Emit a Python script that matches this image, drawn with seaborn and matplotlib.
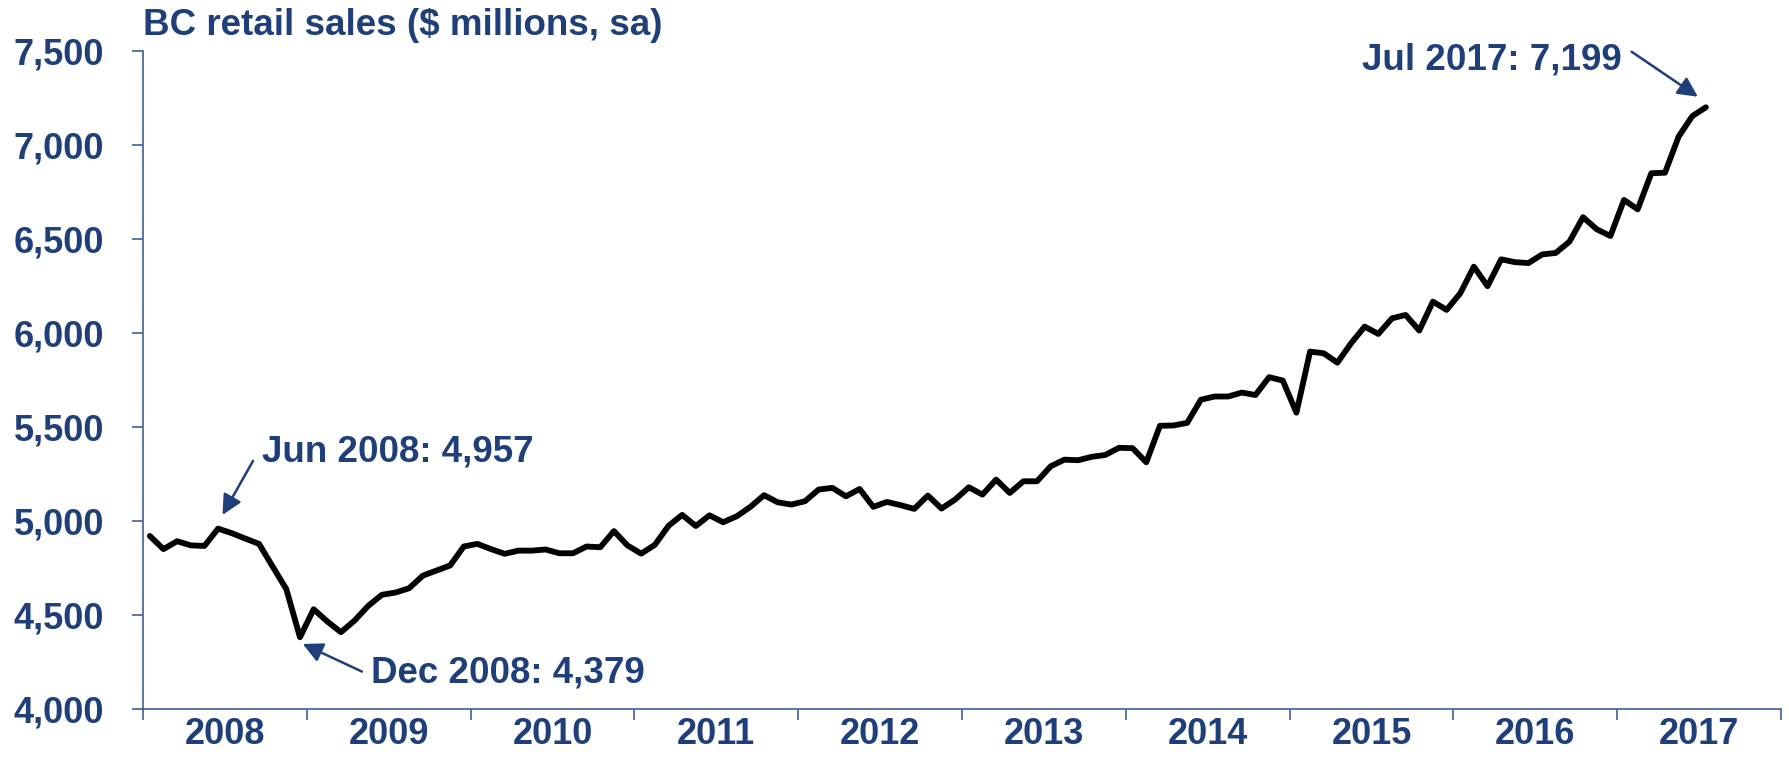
import numpy as np
import pandas as pd
import matplotlib
matplotlib.use("Agg")
import matplotlib.pyplot as plt
import seaborn as sns
from matplotlib.ticker import FixedLocator, FuncFormatter
from matplotlib.transforms import offset_copy

# ---------------- data ----------------
years = ["2008", "2009", "2010", "2011", "2012", "2013", "2014", "2015", "2016", "2017"]
sales_2008 = [4918, 4848, 4890, 4868, 4865, 4957, 4933, 4904, 4876, 4755, 4635, 4379]
sales_2009 = [4528, 4463, 4406, 4468, 4546, 4605, 4617, 4640, 4707, 4734, 4761, 4862]
sales_2010 = [4876, 4848, 4823, 4840, 4840, 4846, 4826, 4826, 4862, 4858, 4944, 4867]
sales_2011 = [4824, 4871, 4972, 5030, 4971, 5028, 4991, 5023, 5073, 5135, 5097, 5085]
sales_2012 = [5103, 5165, 5174, 5129, 5168, 5073, 5099, 5082, 5062, 5133, 5064, 5112]
sales_2013 = [5177, 5138, 5218, 5147, 5209, 5209, 5289, 5324, 5321, 5339, 5349, 5387]
sales_2014 = [5385, 5310, 5504, 5506, 5520, 5643, 5660, 5660, 5681, 5668, 5763, 5745]
sales_2015 = [5574, 5899, 5890, 5840, 5943, 6032, 5993, 6076, 6094, 6011, 6165, 6121]
sales_2016 = [6209, 6351, 6247, 6390, 6375, 6370, 6416, 6424, 6484, 6614, 6550, 6514]
sales_2017 = [6706, 6656, 6848, 6851, 7043, 7152, 7199]
y_ticks = [4000, 4500, 5000, 5500, 6000, 6500, 7000, 7500]

title = "BC retail sales ($ millions, sa)"
note_jun = "Jun 2008: 4,957"
note_dec = "Dec 2008: 4,379"
note_jul = "Jul 2017: 7,199"

values = (sales_2008 + sales_2009 + sales_2010 + sales_2011 + sales_2012 +
          sales_2013 + sales_2014 + sales_2015 + sales_2016 + sales_2017)
df = pd.DataFrame({"month": np.arange(len(values)), "sales": values})

# ---------------- style ----------------
sns.set_style("ticks")
plt.rcParams["font.family"] = ["Liberation Sans", "DejaVu Sans"]
plt.rcParams["font.weight"] = "bold"

TEXT = "#1F3F7A"
AXC = "#3F5E96"

fig = plt.figure(figsize=(17.89, 7.59), dpi=100)
ax = fig.add_axes([143 / 1789, 50.5 / 759, (1781 - 143) / 1789, (708.5 - 50.7) / 759])

sns.lineplot(data=df, x="month", y="sales", ax=ax, color="black", linewidth=4.2)

ax.set_xlim(-0.5, 12 * len(years) - 0.5)
ax.set_ylim(y_ticks[0], y_ticks[-1])
ax.set_xlabel("")
ax.set_ylabel("")

# axes spines
for s in ["top", "right"]:
    ax.spines[s].set_visible(False)
for s in ["left", "bottom"]:
    ax.spines[s].set_color(AXC)
    ax.spines[s].set_linewidth(1.2)

# y ticks
ax.yaxis.set_major_locator(FixedLocator(y_ticks))
ax.yaxis.set_major_formatter(FuncFormatter(lambda v, p: f"{int(v):,}"))
ax.tick_params(axis="y", direction="out", length=8, width=1.2, color=AXC,
               labelsize=26, labelcolor=TEXT, pad=20)

# x ticks: boundaries as major ticks, year labels centered as minor
bounds = [12 * i - 0.5 for i in range(len(years) + 1)]
centers = [12 * i + 5.5 for i in range(len(years))]
ax.xaxis.set_major_locator(FixedLocator(bounds))
ax.xaxis.set_major_formatter(FuncFormatter(lambda v, p: ""))
ax.xaxis.set_minor_locator(FixedLocator(centers))
ax.set_xticklabels(years, minor=True)
ax.tick_params(axis="x", which="major", direction="out", length=8, width=1.2, color=AXC)
ax.tick_params(axis="x", which="minor", length=0, labelsize=26, labelcolor=TEXT, pad=6)
for lbl in ax.get_yticklabels() + ax.get_xticklabels(minor=True):
    lbl.set_fontweight("bold")

# title
fig.text(143 / 1789, 1 - 35 / 759, title, fontsize=26.5, fontweight="bold",
         color=TEXT, ha="left", va="baseline")

# annotations
arrow_kw = dict(arrowstyle="-|>,head_length=0.6,head_width=0.3", color=TEXT,
                lw=1.8, shrinkA=0, shrinkB=0, mutation_scale=20)


def note(idx, text, tip, tail, txt, ha):
    x, y = df["month"].iloc[idx], df["sales"].iloc[idx]
    tr_tip = offset_copy(ax.transData, fig=fig, x=tip[0], y=tip[1], units="points")
    disp_tip = tr_tip.transform((x, y))
    tr_tail = offset_copy(ax.transData, fig=fig, x=tail[0], y=tail[1], units="points")
    disp_tail = tr_tail.transform((x, y))
    ax.annotate("", xy=disp_tip, xycoords="figure pixels",
                xytext=disp_tail, textcoords="figure pixels", arrowprops=arrow_kw)
    tr_txt = offset_copy(ax.transData, fig=fig, x=txt[0], y=txt[1], units="points")
    ax.text(x, y, text, transform=tr_txt, fontsize=26.5, fontweight="bold",
            color=TEXT, ha=ha, va="baseline")


note(5, note_jun, (3.2, 9.9), (25.2, 48.8), (31.3, 48.2), "left")
note(11, note_dec, (2.0, -4.8), (44.6, -24.7), (51.1, -32.8), "left")
note(len(values) - 1, note_jul, (-5.8, 7.6), (-53.5, 40.0), (-60.7, 27.4), "right")

fig.savefig("out.png", dpi=100)
